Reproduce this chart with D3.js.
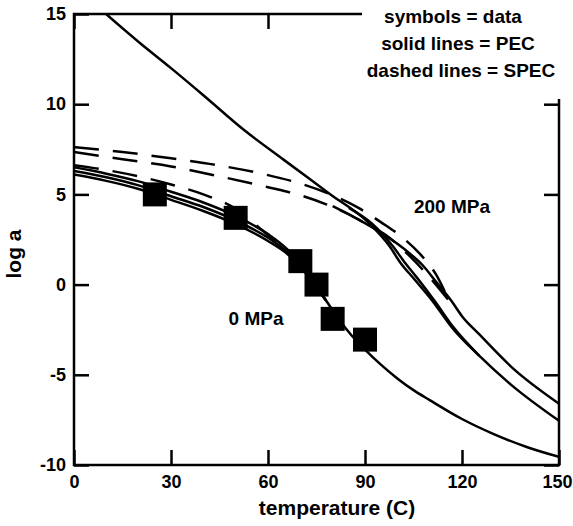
<!DOCTYPE html>
<html>
<head>
<meta charset="utf-8">
<script src="https://cdnjs.cloudflare.com/ajax/libs/d3/7.8.5/d3.min.js"></script>
<style>
  html, body { margin: 0; padding: 0; background: #fff; }
  svg text { font-family: "Liberation Sans", Arial, Helvetica, sans-serif; font-weight: bold; fill: #000; }
</style>
</head>
<body>
<div id="chart"></div>
<script>
// datos: [temperatura, log a]
const squares = [[25, 5.0], [50, 3.7], [70, 1.3], [75, 0.0], [80, -1.9], [90, -3.05]];

// 0 MPa, PEC (solidas)
const pec0a = [[0, 6.5], [10, 6.15], [20, 5.72], [30, 5.15], [40, 4.55], [50, 3.8], [60, 2.8], [66, 1.95], [70, 1.15], [74, 0.1], [78, -0.9]];
const pec0b = [[0, 6.3], [10, 5.95], [20, 5.5], [30, 4.9], [40, 4.3], [50, 3.55], [60, 2.6], [66, 1.8], [70, 1.05], [74, 0.1], [78, -0.9], [82, -1.95], [86, -2.85], [90, -3.6], [95, -4.45], [100, -5.2], [105, -5.85], [110, -6.4], [120, -7.45], [130, -8.3], [140, -9.0], [150, -9.55]];
const pec0c = [[0, 6.1], [10, 5.75], [20, 5.3], [30, 4.7], [40, 4.08], [50, 3.35], [60, 2.42], [66, 1.7], [70, 1.0], [74, 0.1], [78, -0.9]];

// 0 MPa, SPEC (discontinua)
const spec0 = [[0, 6.62], [10, 6.35], [20, 6.0], [30, 5.55], [40, 5.0], [50, 4.2], [57, 3.2], [64, 2.1], [70, 1.3], [72, 0.95]];

// 200 MPa, PEC (solidas)
const pec200a = [[9.9, 15], [20, 13.45], [30, 12.0], [40, 10.5], [52.8, 8.54], [65, 6.9], [79, 5.04], [91.4, 3.38], [97.5, 2.15], [101, 1.2], [105, 0.35], [110.8, -0.89], [117, -2.4], [125.3, -3.94], [135.5, -5.6], [150, -7.55]];
const pec200b = [[85, 4.25], [92, 3.4], [98.5, 2.15], [102, 1.3], [106, 0.4], [111.5, -0.9], [117.5, -2.4], [125.3, -3.94]];
const pec200c = [[80, 4.35], [86, 3.8], [92, 3.2], [99.7, 2.3], [104, 1.7], [107.7, 1.1], [112, 0.15], [116.7, -0.9], [120, -1.75], [125.3, -2.75], [135.5, -4.6], [150, -6.6]];

// 200 MPa, SPEC (discontinuas)
const spec200a = [[0, 7.62], [15, 7.35], [30, 7.0], [45, 6.6], [58, 6.15], [70, 5.6], [80, 4.95], [88, 4.25], [95, 3.45], [102, 2.55], [107, 1.7], [112, 0.55], [115.5, -0.7]];
const spec200b = [[0, 7.35], [15, 6.95], [30, 6.55], [45, 6.0], [60, 5.4], [70, 4.95], [78, 4.45], [85, 3.9], [91, 3.3], [96, 2.8], [104, 1.55], [110, 0.4], [116, -0.9]];

const xTicks = [0, 30, 60, 90, 120, 150];
const yTicks = [-10, -5, 0, 5, 10, 15];

const width = 573, height = 526;
const mLeft = 74, mRight = 559, mTop = 14, mBottom = 465;

const svg = d3.select("#chart").append("svg")
  .attr("width", width)
  .attr("height", height);

const x = d3.scaleLinear().domain([0, 150]).range([mLeft, mRight]);
const y = d3.scaleLinear().domain([-10, 15]).range([mBottom, mTop]);

svg.append("clipPath").attr("id", "plot")
  .append("rect")
  .attr("x", mLeft).attr("y", mTop)
  .attr("width", mRight - mLeft).attr("height", mBottom - mTop);

const line = d3.line()
  .x(d => x(d[0]))
  .y(d => y(d[1]))
  .curve(d3.curveMonotoneX);

const curves = svg.append("g").attr("clip-path", "url(#plot)");

// lineas solidas
[pec0a, pec0b, pec0c, pec200a, pec200b, pec200c].forEach(c => {
  curves.append("path")
    .attr("d", line(c))
    .attr("fill", "none")
    .attr("stroke", "#000")
    .attr("stroke-width", 2.5);
});

// lineas discontinuas
[spec0, spec200a, spec200b].forEach(c => {
  curves.append("path")
    .attr("d", line(c))
    .attr("fill", "none")
    .attr("stroke", "#000")
    .attr("stroke-width", 2.5)
    .attr("stroke-dasharray", "25,14");
});

// simbolos = datos
svg.append("g").selectAll("path")
  .data(squares)
  .enter()
  .append("path")
  .attr("transform", d => `translate(${x(d[0])},${y(d[1])})`)
  .attr("d", d3.symbol().type(d3.symbolSquare).size(24 * 24))
  .attr("fill", "#000");

// ejes con marcas hacia adentro
const axisStyle = g => {
  g.select(".domain").remove();
  g.selectAll(".tick line").attr("stroke", "#000").attr("stroke-width", 2.5);
  g.selectAll(".tick text").style("font-size", "18px");
};

const fmt = d => String(d);  // guion normal, no signo menos unicode

svg.append("g")
  .attr("transform", `translate(0,${mBottom})`)
  .call(d3.axisBottom(x).tickValues(xTicks).tickFormat(fmt).tickSize(-15).tickPadding(10))
  .call(axisStyle)
  .call(g => g.selectAll(".tick text").filter(d => d === 150).attr("dx", "-2"));

svg.append("g")
  .attr("transform", `translate(${mLeft},0)`)
  .call(d3.axisLeft(y).tickValues(yTicks).tickFormat(fmt).tickSize(-15).tickPadding(8))
  .call(axisStyle);

svg.append("g")
  .attr("transform", `translate(0,${mTop})`)
  .call(d3.axisTop(x).tickValues(xTicks).tickSize(-15).tickFormat(""))
  .call(axisStyle);

svg.append("g")
  .attr("transform", `translate(${mRight},0)`)
  .call(d3.axisRight(y).tickValues(yTicks).tickSize(-15).tickFormat(""))
  .call(axisStyle);

svg.append("rect")
  .attr("x", mLeft).attr("y", mTop)
  .attr("width", mRight - mLeft).attr("height", mBottom - mTop)
  .attr("fill", "none")
  .attr("stroke", "#000")
  .attr("stroke-width", 2.5);

// caja blanca de la leyenda (tapa el marco)
svg.append("rect")
  .attr("x", 362).attr("y", 0)
  .attr("width", width - 362).attr("height", 99)
  .attr("fill", "#fff");

const legend = [
  { t: "symbols = data", cx: 453, by: 23 },
  { t: "solid lines = PEC", cx: 458, by: 50 },
  { t: "dashed lines = SPEC", cx: 461, by: 77 }
];
svg.append("g").selectAll("text")
  .data(legend)
  .enter()
  .append("text")
  .attr("x", d => d.cx)
  .attr("y", d => d.by)
  .attr("text-anchor", "middle")
  .style("font-size", "19px")
  .text(d => d.t);

svg.append("text")
  .attr("x", 452).attr("y", 213)
  .attr("text-anchor", "middle")
  .style("font-size", "19px")
  .text("200 MPa");

svg.append("text")
  .attr("x", 256).attr("y", 325)
  .attr("text-anchor", "middle")
  .style("font-size", "19px")
  .text("0 MPa");

svg.append("text")
  .attr("x", 337).attr("y", 515)
  .attr("text-anchor", "middle")
  .style("font-size", "21px")
  .text("temperature (C)");

svg.append("text")
  .attr("transform", "translate(21,254) rotate(-90)")
  .attr("text-anchor", "middle")
  .style("font-size", "21px")
  .text("log a");
</script>
</body>
</html>
